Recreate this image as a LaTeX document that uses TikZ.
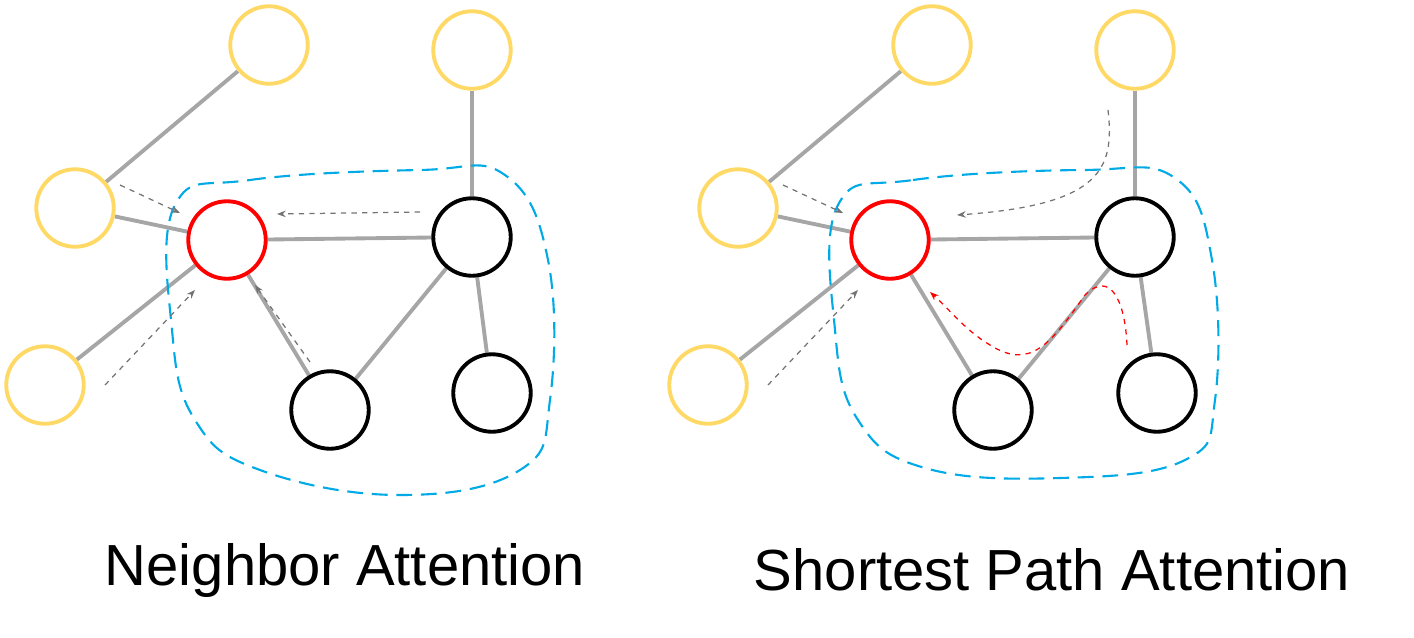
\documentclass[tikz,border=0pt]{standalone}
\usepackage{fontspec}
\setmainfont{Liberation Sans}
\usetikzlibrary{arrows.meta,backgrounds}

\begin{document}
\begin{tikzpicture}[
    x=0.02cm, y=-0.02cm,
    vert/.style={circle, line width=2.2pt, minimum size=1.55cm, fill=white},
    leaf/.style={vert, draw={rgb,255:red,255;green,217;blue,102}},
    center/.style={vert, draw=red},
    inner/.style={vert, draw=black},
    link/.style={line width=2.2pt, draw=gray!70},
    attn/.style={-{Stealth[length=5pt]}, dashed, line width=0.7pt, gray!90!black},
    region/.style={dashed, dash pattern=on 9pt off 5pt, line width=1.2pt, draw={rgb,255:red,0;green,170;blue,230}},
    caption/.style={font=\fontsize{33}{36}\selectfont}
]
\useasboundingbox (0,0) rectangle (1414,637);

% Neighbor Attention
\node[leaf] (l1) at (269,45) {};
\node[leaf] (l2) at (75,208) {};
\node[leaf] (l3) at (45,385) {};
\node[leaf] (l4) at (472,50) {};
\node[center] (lr) at (227,240) {};
\node[inner] (lb1) at (472,237) {};
\node[inner] (lb2) at (330,410) {};
\node[inner] (lb3) at (492,393) {};

\begin{scope}[on background layer]
\draw[link] (l1) -- (l2);
\draw[link] (l2) -- (lr);
\draw[link] (l3) -- (lr);
\draw[link] (l4) -- (lb1);
\draw[link] (lr) -- (lb1);
\draw[link] (lr) -- (lb2);
\draw[link] (lb2) -- (lb1);
\draw[link] (lb1) -- (lb3);
\end{scope}

\draw[region] plot[smooth cycle, tension=0.7] coordinates {(175,205) (250,180) (420,170) (505,175) (548,260) (550,400) (520,470) (400,495) (260,470) (195,420) (172,330)};

\coordinate (la1) at (120,185);
\coordinate (la2) at (420,212);
\coordinate (la3) at (310,362);
\coordinate (la4) at (105,385);
\draw[attn] (la1) -- (180,213);
\draw[attn] (la2) -- (277,214);
\draw[attn] (la3) -- (255,285);
\draw[attn] (la4) -- (195,290);

\node[caption] (lcap) at (345,570) {Neighbor Attention};

% Shortest Path Attention
\node[leaf] (r1) at (932,45) {};
\node[leaf] (r2) at (738,208) {};
\node[leaf] (r3) at (708,385) {};
\node[leaf] (r4) at (1135,50) {};
\node[center] (rr) at (890,240) {};
\node[inner] (rb1) at (1135,237) {};
\node[inner] (rb2) at (993,410) {};
\node[inner] (rb3) at (1157,393) {};

\begin{scope}[on background layer]
\draw[link] (r1) -- (r2);
\draw[link] (r2) -- (rr);
\draw[link] (r3) -- (rr);
\draw[link] (r4) -- (rb1);
\draw[link] (rr) -- (rb1);
\draw[link] (rr) -- (rb2);
\draw[link] (rb2) -- (rb1);
\draw[link] (rb1) -- (rb3);
\end{scope}

\draw[region] plot[smooth cycle, tension=0.7] coordinates {(838,205) (913,180) (1083,170) (1175,178) (1212,260) (1215,400) (1185,460) (1060,478) (925,468) (858,420) (835,330)};

\coordinate (ra1) at (783,185);
\coordinate (ra2) at (1108,110);
\coordinate (ra4) at (768,385);
\coordinate (ra5) at (1127,345);
\draw[attn] (ra1) -- (843,213);
\draw[attn] (ra2) .. controls (1115,170) and (1100,205) .. (957,215);
\draw[attn] (ra4) -- (858,290);
\draw[attn, red] (ra5) .. controls (1125,300) and (1110,270) .. (1085,295)
    .. controls (1050,345) and (1030,370) .. (990,345)
    .. controls (965,330) and (950,310) .. (930,292);

\node[caption] (rcap) at (1052,570) {Shortest Path Attention};
\end{tikzpicture}
\end{document}
